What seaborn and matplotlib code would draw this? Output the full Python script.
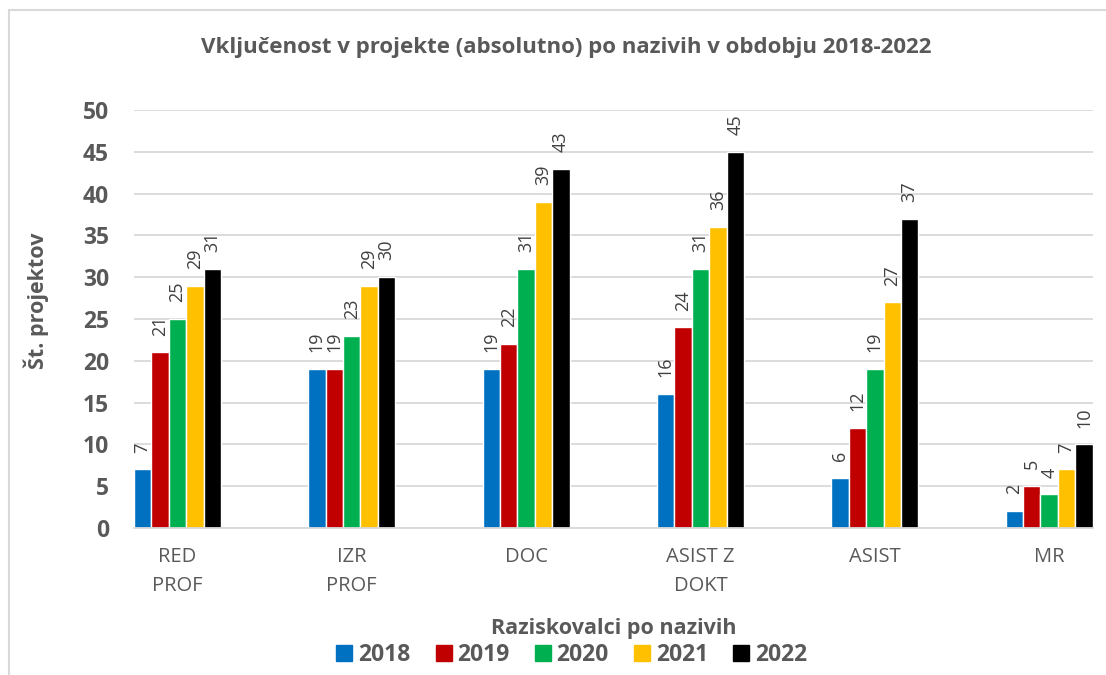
import numpy as np
import pandas as pd
import matplotlib
matplotlib.use("Agg")
import matplotlib.pyplot as plt
import seaborn as sns
from matplotlib.patches import Rectangle

# data
nazivi = ["RED\nPROF", "IZR\nPROF", "DOC", "ASIST Z\nDOKT", "ASIST", "MR"]
leta = ["2018", "2019", "2020", "2021", "2022"]
v2018 = [7, 19, 19, 16, 6, 2]
v2019 = [21, 19, 22, 24, 12, 5]
v2020 = [25, 23, 31, 31, 19, 4]
v2021 = [29, 29, 39, 36, 27, 7]
v2022 = [31, 30, 43, 45, 37, 10]

barve = ["#0070c0", "#c00000", "#00b050", "#ffc000", "#000000"]
siva = "#595959"

df = pd.DataFrame({
    "naziv": nazivi * 5,
    "leto": np.repeat(leta, len(nazivi)),
    "projekti": v2018 + v2019 + v2020 + v2021 + v2022,
})

sns.set_style("white")
plt.rcParams["font.family"] = ["Open Sans", "DejaVu Sans"]

fig = plt.figure(figsize=(11.06, 6.75), dpi=100)
ax = fig.add_axes([0.121, 0.218, 0.867, 0.619])

sns.barplot(data=df, x="naziv", y="projekti", hue="leto", palette=barve,
            saturation=1, width=0.5, edgecolor="white", linewidth=1.0, ax=ax)

for cont in ax.containers:
    ax.bar_label(cont, rotation=90, padding=12, fontsize=13, color="#404040")

ax.set_xlim(-0.25, 5.25)
ax.set_ylim(0, 50)
ax.set_yticks(range(0, 51, 5))
ax.yaxis.grid(True, color="#d9d9d9", linewidth=1.3)
ax.set_axisbelow(True)
for s in ["top", "right", "left"]:
    ax.spines[s].set_visible(False)
ax.spines["bottom"].set_color("#d9d9d9")
ax.spines["bottom"].set_linewidth(1.3)
ax.tick_params(axis="y", length=0, labelsize=16.5, labelcolor=siva, pad=18)
ax.tick_params(axis="x", length=0, labelsize=14.5, labelcolor=siva, pad=14)
for t in ax.get_yticklabels():
    t.set_fontweight("bold")
for t in ax.get_xticklabels():
    t.set_linespacing(1.55)

ax.set_xlabel("")
ax.set_ylabel("")
fig.text(0.033, 0.554, "Št. projektov", rotation=90, ha="center", va="center",
         fontsize=15.5, fontweight="bold", color=siva)

fig.text(0.512, 0.93, "Vključenost v projekte (absolutno) po nazivih v obdobju 2018-2022",
         ha="center", va="center", fontsize=16, fontweight="bold", color=siva)
fig.text(0.555, 0.069, "Raziskovalci po nazivih", ha="center", va="center",
         fontsize=15.5, fontweight="bold", color=siva)

ax.legend_.remove()
handles = [Rectangle((0, 0), 1, 1, color=c) for c in barve]
leg = fig.legend(handles, leta, loc="center", bbox_to_anchor=(0.517, 0.029), ncol=5,
                 frameon=False, fontsize=16.5, handlelength=0.7, handleheight=0.7,
                 handletextpad=0.25, columnspacing=1.1)
for t in leg.get_texts():
    t.set_fontweight("bold")
    t.set_color(siva)

fig.patches.append(Rectangle((0.008, -0.01), 1.1, 0.995, transform=fig.transFigure,
                             fill=False, edgecolor="#d9d9d9", linewidth=1.5))

fig.savefig("out.png", dpi=100)
